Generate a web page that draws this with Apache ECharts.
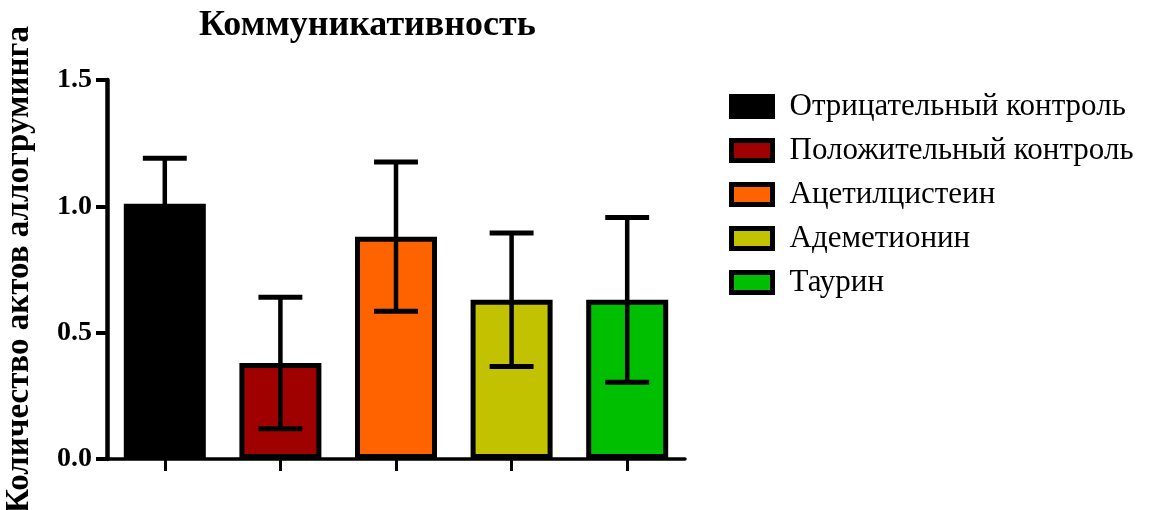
<!DOCTYPE html>
<html>
<head>
<meta charset="utf-8">
<script src="https://cdn.jsdelivr.net/npm/echarts@6/dist/echarts.min.js"></script>
<style>
  html, body { margin: 0; padding: 0; background: #fff; }
  #chart { width: 1158px; height: 510px; }
</style>
</head>
<body>
<div id="chart"></div>
<script>
// Groups, bar colours, means and standard deviations
const groups = ['Отрицательный контроль', 'Положительный контроль', 'Ацетилцистеин', 'Адеметионин', 'Таурин'];
const colors = ['#000000', '#9F0000', '#FF6300', '#C2C200', '#00BE00'];
const means = [1.01, 0.38, 0.88, 0.63, 0.63];
const sds = [0.18, 0.26, 0.295, 0.264, 0.326];
const yTicks = [0, 0.5, 1.0, 1.5];

const FONT = '"Liberation Serif", "Times New Roman", serif';

const chart = echarts.init(document.getElementById('chart'), null, { renderer: 'canvas' });

// One bar series per group so each gets its own legend entry
const barSeries = groups.map((name, i) => ({
  name: name,
  type: 'bar',
  barWidth: 82,
  barGap: '-100%',
  data: groups.map((_, j) => (j === i ? means[i] : '-')),
  itemStyle: { color: colors[i], borderColor: '#000', borderWidth: 5 },
  emphasis: { disabled: true },
  z: 2
}));

// Mean ± SD whiskers with caps
const errorSeries = {
  type: 'custom',
  data: means.map((m, i) => [i, m - sds[i], m + sds[i]]),
  renderItem: function (params, api) {
    const lo = api.coord([api.value(0), api.value(1)]);
    const hi = api.coord([api.value(0), api.value(2)]);
    const half = api.size([1, 0])[0] * 0.19;
    const style = { stroke: '#000', lineWidth: 5 };
    return {
      type: 'group',
      children: [
        { type: 'line', shape: { x1: hi[0], y1: hi[1], x2: lo[0], y2: lo[1] }, style: { stroke: '#000', lineWidth: 4.5 } },
        { type: 'line', shape: { x1: hi[0] - half, y1: hi[1], x2: hi[0] + half, y2: hi[1] }, style: style },
        { type: 'line', shape: { x1: lo[0] - half, y1: lo[1], x2: lo[0] + half, y2: lo[1] }, style: style }
      ]
    };
  },
  z: 5,
  silent: true
};

chart.setOption({
  animation: false,
  backgroundColor: '#fff',
  title: {
    text: 'Коммуникативность',
    left: 194,
    top: 3,
    textStyle: { fontFamily: FONT, fontSize: 36, fontWeight: 'bold', color: '#000' }
  },
  legend: {
    orient: 'vertical',
    left: 724,
    top: 86,
    icon: 'rect',
    itemWidth: 41,
    itemHeight: 20,
    itemGap: 13,
    selectedMode: false,
    data: groups,
    itemStyle: { borderColor: '#000', borderWidth: 5 },
    textStyle: { fontFamily: FONT, fontSize: 31, color: '#000', padding: [0, 0, 0, 12] }
  },
  grid: { left: 107, top: 80, width: 578, height: 379, outerBoundsMode: 'none', containLabel: false },
  xAxis: {
    type: 'category',
    data: groups,
    axisLine: { show: true, lineStyle: { color: '#000', width: 3.5 } },
    axisTick: { show: true, interval: 0, alignWithLabel: true, length: 12, lineStyle: { color: '#000', width: 3 } },
    axisLabel: { show: false, interval: 0 },
    splitLine: { show: false }
  },
  yAxis: {
    type: 'value',
    min: yTicks[0],
    max: yTicks[yTicks.length - 1],
    interval: 0.5,
    name: 'Количество актов аллогруминга',
    nameLocation: 'middle',
    nameGap: 71,
    nameTextStyle: { fontFamily: FONT, fontSize: 33, fontWeight: 'bold', color: '#000' },
    axisLine: { show: true, lineStyle: { color: '#000', width: 4.5 } },
    axisTick: { show: true, length: 11, lineStyle: { color: '#000', width: 4 } },
    axisLabel: {
      margin: 15,
      fontFamily: FONT, fontSize: 28, fontWeight: 'bold', color: '#000',
      formatter: v => v.toFixed(1)
    },
    splitLine: { show: false }
  },
  series: barSeries.concat([errorSeries])
});
</script>
</body>
</html>
